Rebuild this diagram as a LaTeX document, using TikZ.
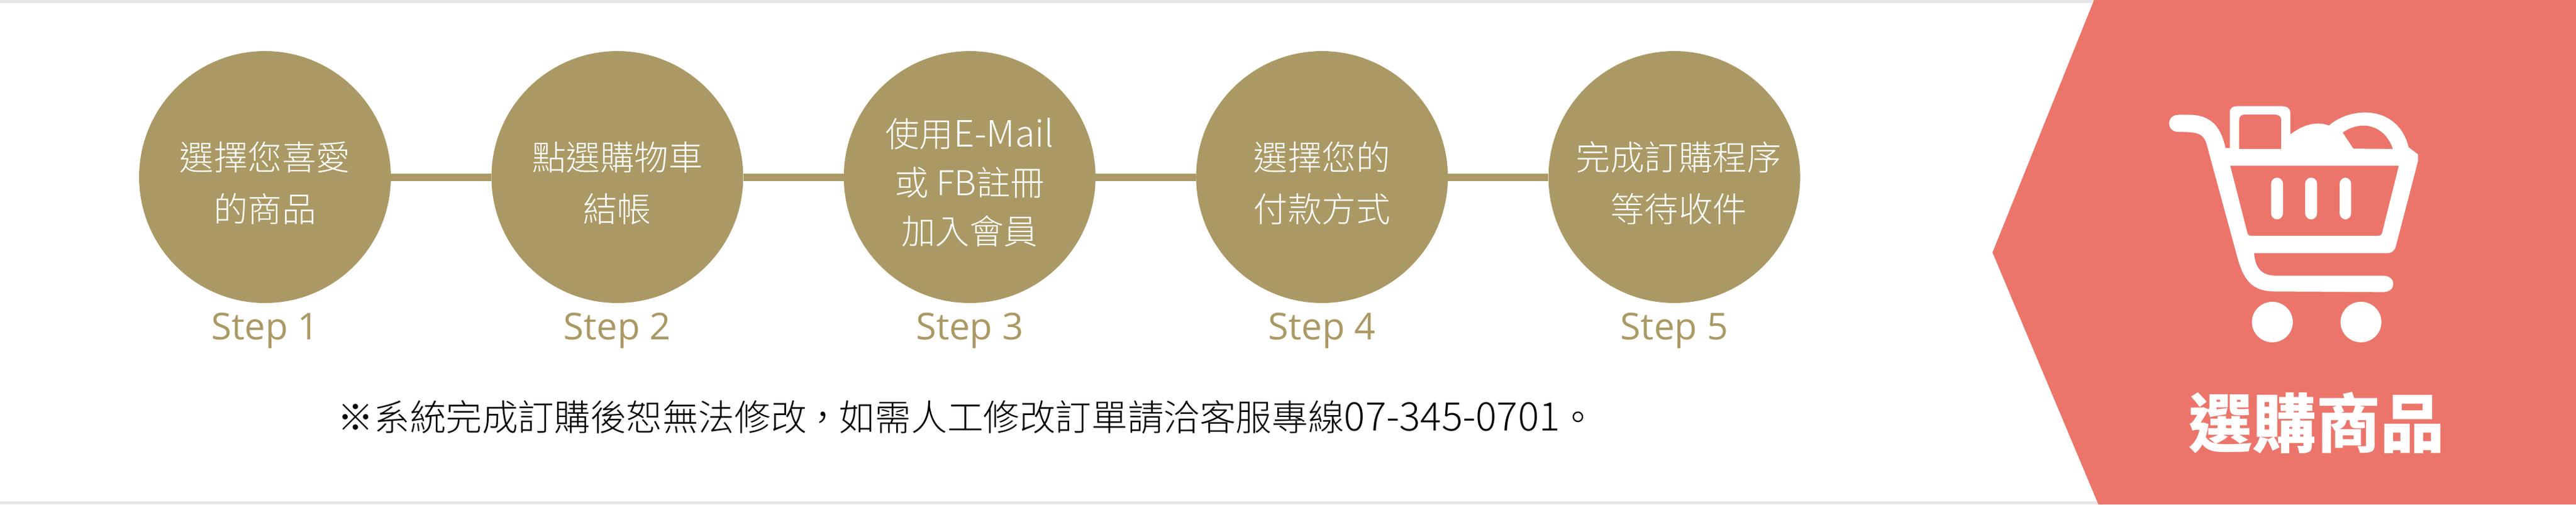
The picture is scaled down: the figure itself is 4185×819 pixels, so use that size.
\documentclass[tikz,border=0pt]{standalone}
\usepackage{fontspec}
\newfontfamily\cjkfont{Noto Sans CJK TC}
\newfontfamily\cjklight{Noto Sans CJK TC Light}
\setmainfont{Open Sans}
\definecolor{stepgold}{HTML}{AB9965}
\definecolor{arrowred}{HTML}{EC756B}
\definecolor{edgegray}{HTML}{E6E6E6}
% extra height on top of the box pushes the lines below the centre of the circle
\newcommand{\steptext}[1]{\raisebox{0pt}[\dimexpr\height+28pt\relax][\depth]{\begin{tabular}{@{}c@{}}#1\end{tabular}}}
\tikzset{%
  stepnode/.style  = {shape=circle, fill=stepgold, text=white, inner sep=0pt,%
                      minimum size=409pt, align=center,%
                      font=\fontsize{55.5}{84}\selectfont\cjklight},%
  threeline/.style = {font=\fontsize{55.5}{79}\selectfont\cjklight},%
  steplabel/.style = {text=stepgold, inner sep=0pt, anchor=base,%
                      font=\fontsize{60}{70}\selectfont},%
  stepline/.style  = {draw=stepgold, line width=12pt},%
  notetext/.style  = {inner sep=0pt, font=\fontsize{58.6}{60}\selectfont\cjklight},%
  titletext/.style = {text=white, inner sep=0pt,%
                      font=\fontsize{104}{110}\selectfont\cjkfont\bfseries}%
}
\begin{document}
\begin{tikzpicture}[x=1pt,y=-1pt]
	\useasboundingbox (0,0) rectangle (4185,819);
	\fill [edgegray] (0,0) rectangle (4185,5);
	\fill [edgegray] (0,814) rectangle (4185,819);
	\fill [arrowred] (3402,0) -- (3237,410) -- (3409,819) -- (4185,819) -- (4185,0) -- cycle;
	% steps
	\node [stepnode] (c1) at (430.5,287.5) {\steptext{選擇您喜愛\\的商品}};
	\node [stepnode] (c2) at (1002.9,287.5) {\steptext{點選購物車\\結帳}};
	\node [stepnode,threeline] (c3) at (1575.3,287.5) {\steptext{使用{\fontsize{59}{79}\selectfont E-Mail}\\或 FB註冊\\加入會員}};
	\node [stepnode] (c4) at (2147.7,287.5) {\steptext{選擇您的\\付款方式}};
	\node [stepnode] (c5) at (2720.1,287.5) {\steptext{\hspace*{14pt}完成訂購程序\\\hspace*{14pt}等待收件}};
	\draw [stepline] (c1) -- (c2);
	\draw [stepline] (c2) -- (c3);
	\draw [stepline] (c3) -- (c4);
	\draw [stepline] (c4) -- (c5);
	\node [steplabel] (s1) at (430.5,551) {Step 1};
	\node [steplabel] (s2) at (1002.9,551) {Step 2};
	\node [steplabel] (s3) at (1575.3,551) {Step 3};
	\node [steplabel] (s4) at (2147.7,551) {Step 4};
	\node [steplabel] (s5) at (2720.1,551) {Step 5};
	\node [notetext] (note) at (1571,677) {※系統完成訂購後恕無法修改\makebox[0.9em][c]{，}如需人工修改訂單請洽客服專線{\fontsize{64}{60}\selectfont 07-345-0701}。};
	% cart
	\begin{scope}[shift={(3100,0)},x=0.692pt,y=-0.5224pt]
		\fill [white,even odd rule]
			(635,357) -- (665,357) .. controls (715,360) and (735,400) .. (745,460)
			-- (755,460) -- (755,350) .. controls (755,335) and (762,330) .. (775,330)
			-- (875,330) .. controls (890,330) and (897,337) .. (897,350) -- (897,418)
			.. controls (925,390) and (955,375) .. (988,390)
			.. controls (1040,330) and (1150,325) .. (1175,458)
			-- (1197,480) -- (1197,500) -- (1145,765) .. controls (1142,780) and (1135,787) .. (1125,787)
			-- (812,787) .. controls (815,835) and (830,857) .. (865,857)
			-- (1115,857) .. controls (1147,857) and (1147,908) .. (1115,908)
			-- (860,906) .. controls (810,905) and (790,875) .. (775,810)
			-- (700,445) .. controls (692,415) and (680,410) .. (635,410)
			.. controls (605,410) and (605,357) .. (635,357) -- cycle
			(777,463) -- (777,372) .. controls (777,362) and (782,356) .. (790,356)
			-- (860,356) .. controls (870,356) and (876,362) .. (876,372) -- (876,463) -- cycle
			(1020,412) .. controls (1065,370) and (1120,390) .. (1138,463) -- (1045,462) -- cycle
			(756,515) -- (1152,515) -- (1113,722) .. controls (1112,730) and (1108,733) .. (1103,733)
			-- (805,733) .. controls (800,733) and (797,730) .. (796,722) -- cycle;
		\fill [white,rounded corners=10pt] (852,552) rectangle (880,682);
		\fill [white,rounded corners=10pt] (932,552) rectangle (960,682);
		\fill [white,rounded corners=10pt] (1013,552) rectangle (1040,682);
		\fill [white] (855,1001) ellipse [x radius=48,y radius=63];
		\fill [white] (1063,1001) ellipse [x radius=48,y radius=63];
	\end{scope}
	\node [titletext] (title) at (3763,687) {選購商品};
\end{tikzpicture}
\end{document}
